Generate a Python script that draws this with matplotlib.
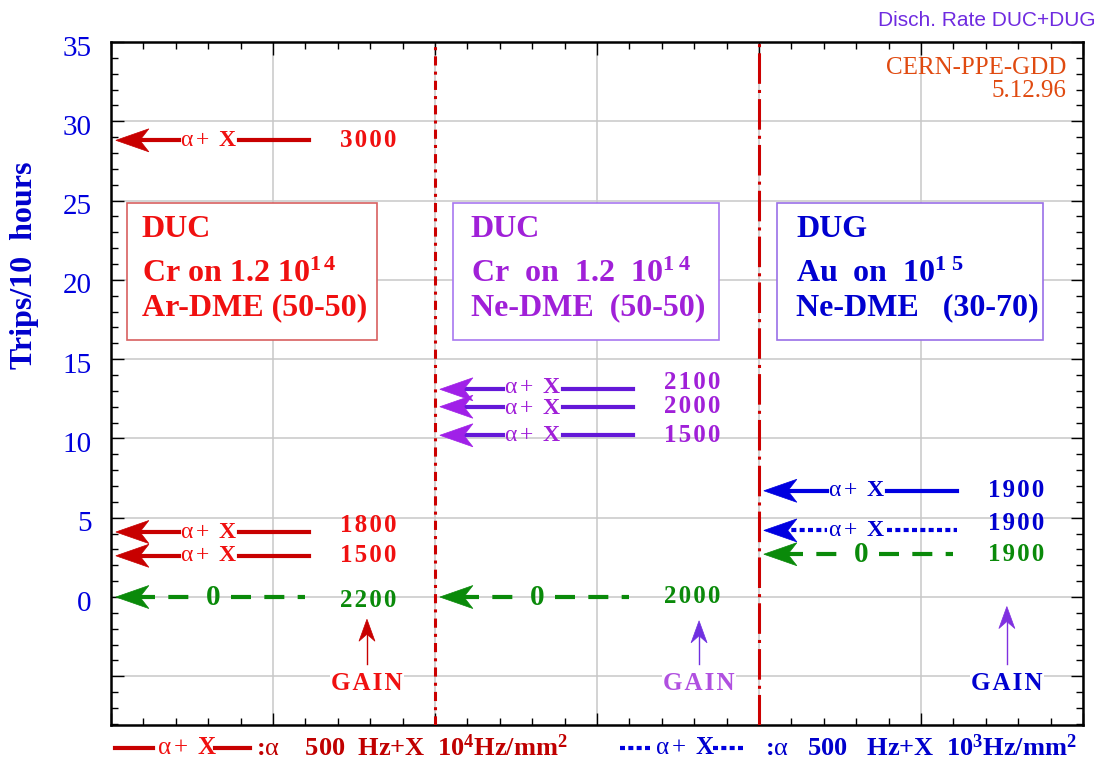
import matplotlib
matplotlib.use('Agg')
import matplotlib.pyplot as plt
from matplotlib.patches import Polygon, Rectangle
from matplotlib.transforms import ScaledTranslation
from matplotlib.lines import Line2D
from matplotlib.ticker import MultipleLocator

plt.rcParams['font.family'] = ['Liberation Serif', 'DejaVu Serif']
plt.rcParams['mathtext.fontset'] = 'custom'
plt.rcParams['mathtext.rm'] = 'Liberation Serif'
plt.rcParams['mathtext.it'] = 'Liberation Serif:italic'
plt.rcParams['mathtext.bf'] = 'Liberation Serif:bold'

# ---------------- data ----------------
panel_title = ['DUC', 'DUC', 'DUG']
panel_target = [r'Cr on 1.2 $\mathbf{10^{1\,4}}$',
                r'Cr  on  1.2  $\mathbf{10^{1\ 4}}$',
                r'Au  on  $\mathbf{10^{1\ 5}}$']
panel_gas = ['Ar-DME (50-50)', 'Ne-DME  (50-50)', 'Ne-DME   (30-70)']

row_panel = [0, 0, 0, 0, 1, 1, 1, 1, 2, 2, 2]
row_trips = [28.8, 4.1, 2.6, 0.0, 13.1, 12.0, 10.2, 0.0, 6.7, 4.2, 2.7]
row_rate = ['3000', '1800', '1500', '2200', '2100', '2000', '1500', '2000',
            '1900', '1900', '1900']
row_source = ['a+X', 'a+X', 'a+X', '0', 'a+X', 'a+X', 'a+X', '0',
              'a+X', 'a+X:', '0']

# ---------------- layout / style ----------------
label_shift_px = [0, 7, 0, -3, 7, 0, 0, 1, 0, 7, 0]   # vertical nudge of rate labels
src_shift_px = [0, 0, 0, 0, 2, -2, 0, 0, 0, 0, 0]     # vertical nudge of "α+ X" texts
line_col = ['#c80000', '#6418d8', '#0000e0']
head_col = ['#c80000', '#a020e8', '#0000e0']
text_col = ['#f01010', '#a020d8', '#0000d0']
box_edge = ['#d86060', '#a878f0', '#9a70e8']
gain_arrow_col = ['#c80000', '#7030e0', '#8030e0']
gain_text_col = ['#f01010', '#b050e0', '#0000d0']
green = '#0a8a0a'
HS = '\u200a'  # hair space for letter spacing

fig = plt.figure(figsize=(11.04, 7.65), dpi=100)
ax = fig.add_axes([111 / 1104, 1 - 725 / 765, (1083 - 111) / 1104, (725 - 42) / 765])
ax.set_xlim(0, 6)
ax.set_ylim(-8.07, 35)


def nudge(px):
    return ScaledTranslation(0, px / 100, fig.dpi_scale_trans)


ax.xaxis.set_major_locator(MultipleLocator(1))
ax.xaxis.set_minor_locator(MultipleLocator(0.2))
ax.yaxis.set_major_locator(MultipleLocator(5))
ax.yaxis.set_minor_locator(MultipleLocator(1))
ax.tick_params(which='both', direction='in', top=True, right=True,
               labelbottom=False, width=1.0, color='black')
ax.tick_params(which='major', length=9)
ax.tick_params(which='minor', length=5)
ax.tick_params(axis='y', labelsize=21, labelcolor='#0000dd', pad=14)
ax.set_yticks(range(-5, 36, 5))
ax.set_yticklabels([''] + [str(v) for v in range(0, 36, 5)])
for lab in ax.get_yticklabels():
    lab.set_transform(lab.get_transform() + nudge(-3.5))
for sp in ax.spines.values():
    sp.set_linewidth(1.8)
ax.grid(True, which='major', color='#c8c8c8', lw=1.1)
ax.set_axisbelow(True)

# vertical separators
ax.axvline(2, color='#cc0000', lw=2.2, ls=(0, (3, 2, 1, 2)), zorder=3)
ax.axvline(4, color='#cc0000', lw=2.2, ls=(0, (10, 2, 1, 2)), zorder=3)


def head(x, y, color, L, W, notch, up=False):
    if up:
        verts = [(0, 0), (W, -L), (0, -notch), (-W, -L)]
    else:
        verts = [(0, 0), (L, W), (notch, 0), (L, -W)]
    tr = fig.dpi_scale_trans + ScaledTranslation(x, y, ax.transData)
    ax.add_patch(Polygon(verts, closed=True, transform=tr, facecolor=color,
                         edgecolor=color, lw=0.5, zorder=5))


# arrows
for i in range(len(row_trips)):
    k = row_panel[i]
    p = 2 * k
    y = row_trips[i]
    tip = p + 0.03
    if row_source[i] == '0':
        col = green
        ls = (0, (4.8, 3.2))
        head(tip, y, col, 0.33, 0.115, 0.24)
        ax.plot([tip + 0.12, p + 0.52], [y, y], color=col, lw=3, ls=ls, zorder=4)
        ax.text(p + 0.63, y, '0', color=col, fontsize=21, fontweight='bold',
                ha='center', va='center', zorder=6)
        ax.plot([p + 0.74, p + 1.2], [y, y], color=col, lw=3, ls=ls, zorder=4)
        lab_col = green
    else:
        col = line_col[k]
        ls = (0, (1.2, 0.8)) if row_source[i].endswith(':') else '-'
        head(tip, y, head_col[k], 0.33, 0.115, 0.24)
        ax.plot([tip + 0.12, p + 0.42], [y, y], color=col, lw=3, ls=ls, zorder=4)
        s = ax.text(p + 0.6, y, r'$\mathrm{\alpha+}$ X', color=text_col[k], fontsize=17,
                    fontweight='bold', ha='center', va='center', zorder=6)
        s.set_transform(ax.transData + nudge(src_shift_px[i]))
        ax.plot([p + 0.79, p + 1.22], [y, y], color=col, lw=3, ls=ls, zorder=4)
        lab_col = text_col[k]
    t = ax.text(p + 1.59, y, HS.join(row_rate[i]), color=lab_col, fontsize=18,
                fontweight='bold', ha='center', va='center', zorder=6)
    t.set_transform(ax.transData + nudge(label_shift_px[i]))

# description boxes
box_x = [0.1, 2.11, 4.11]
box_w = [1.54, 1.64, 1.64]
text_x = [0.19, 2.22, 4.23]
for k in range(3):
    ax.add_patch(Rectangle((box_x[k], 16.2), box_w[k], 8.65,
                           facecolor='white', edgecolor=box_edge[k], lw=1.2, zorder=4))
    x0 = text_x[k]
    ax.text(x0, 22.7, panel_title[k], color=text_col[k], fontsize=23,
            fontweight='bold', va='baseline', zorder=6)
    ax.text(x0, 19.85, panel_target[k], color=text_col[k], fontsize=23,
            fontweight='bold', va='baseline', zorder=6)
    ax.text(x0, 17.75, panel_gas[k], color=text_col[k], fontsize=23,
            fontweight='bold', va='baseline', zorder=6)

# GAIN markers
gain_x = [1.58, 1.63, 1.53]
gain_tip = [-1.4, -1.5, -0.6]
for k in range(3):
    x = 2 * k + gain_x[k]
    ax.plot([x, x], [-4.2, gain_tip[k] - 0.8], color=gain_arrow_col[k], lw=1, zorder=4)
    head(x, gain_tip[k], gain_arrow_col[k], 0.22, 0.08, 0.15, up=True)
    ax.text(x, -5.45, HS.join('GAIN'), color=gain_text_col[k], fontsize=18,
            fontweight='bold', ha='center', va='center', zorder=6,
            bbox=dict(facecolor='white', edgecolor='none', pad=1))

# texts outside / annotations
fig.text(25 / 1104, 1 - 265 / 765, 'Trips/10  hours', rotation=90, ha='center',
         va='center', fontsize=23, fontweight='bold', color='#0000cc')
fig.text(1095 / 1104, 1 - 20 / 765, 'Disch. Rate DUC+DUG', ha='right', va='center',
         family='Liberation Sans', fontsize=15, color='#6f2be0')
fig.text(1066 / 1104, 1 - 68 / 765, 'CERN-PPE-GDD', ha='right', va='center',
         fontsize=18, color='#e04a10')
fig.text(1066 / 1104, 1 - 91 / 765, '5.12.96', ha='right', va='center',
         fontsize=18, color='#e04a10')

# bottom legend
ly = 1 - 748 / 765


def fx(px):
    return px / 1104


fig.add_artist(Line2D([fx(115), fx(153)], [ly, ly], color='#c80000', lw=3))
fig.text(fx(157), ly, r'$\mathrm{\alpha+}$ X', color='#f01010', fontsize=18,
         fontweight='bold', ha='left', va='center')
fig.add_artist(Line2D([fx(215), fx(250)], [ly, ly], color='#c80000', lw=3))
fig.text(fx(256), ly, r':$\mathrm{\alpha}$    500  Hz+X  10$^{\mathbf{4}}$Hz/mm$^{\mathbf{2}}$',
         color='#c00000', fontsize=19, fontweight='bold', ha='left', va='center')

fig.add_artist(Line2D([fx(620), fx(652)], [ly, ly], color='#0000e0', lw=3,
                      ls=(0, (1.2, 0.8))))
fig.text(fx(655), ly, r'$\mathrm{\alpha+}$ X', color='#0000d0', fontsize=18,
         fontweight='bold', ha='left', va='center')
fig.add_artist(Line2D([fx(713), fx(745)], [ly, ly], color='#0000e0', lw=3,
                      ls=(0, (1.2, 0.8))))
fig.text(fx(765), ly, r':$\mathrm{\alpha}$   500   Hz+X  10$^{\mathbf{3}}$Hz/mm$^{\mathbf{2}}$',
         color='#0000cc', fontsize=19, fontweight='bold', ha='left', va='center')

fig.savefig('out.png', dpi=100)
